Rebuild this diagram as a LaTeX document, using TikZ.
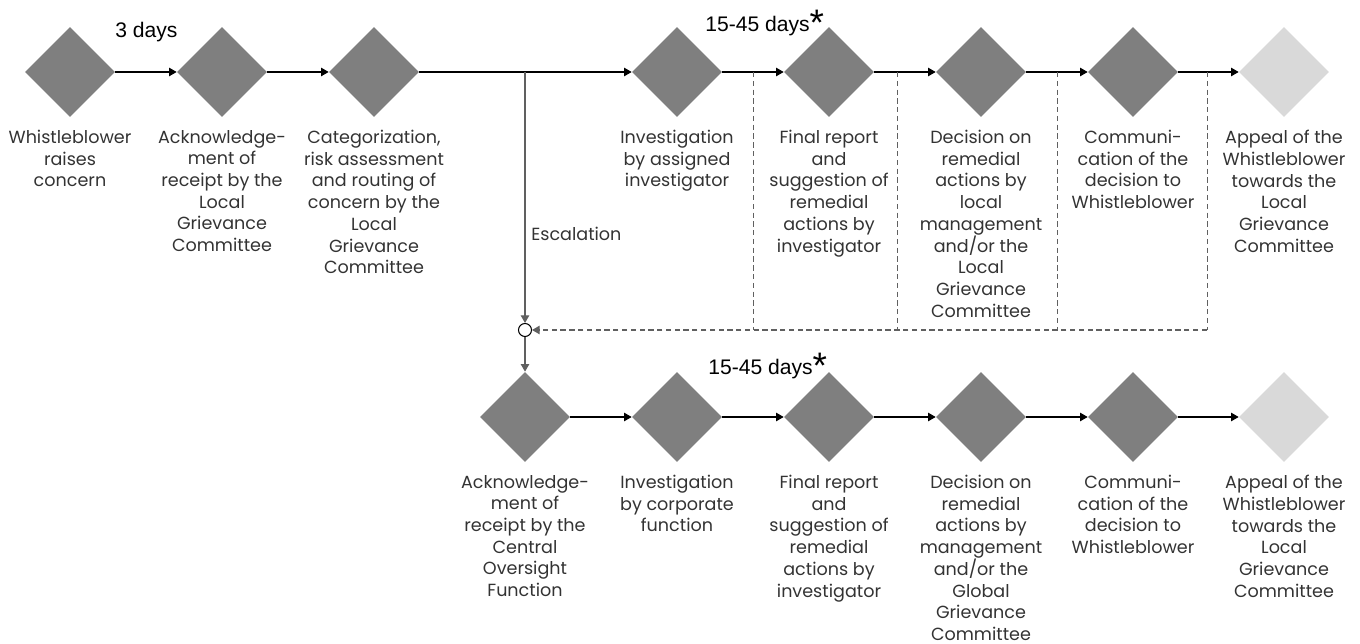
\documentclass[tikz,border=0pt]{standalone}
\usepackage{fontspec}
\setmainfont{Poppins}
\newfontfamily\daysfont{Liberation Sans}
\usepackage{tikz}
\usetikzlibrary{shapes.geometric, arrows.meta, positioning}
\definecolor{stG}{RGB}{127,127,127}
\definecolor{stL}{RGB}{217,217,217}
\definecolor{txG}{RGB}{51,51,51}
\definecolor{lnG}{RGB}{96,96,96}

\begin{document}
\begin{tikzpicture}[x=0.02cm, y=-0.02cm,
    stage/.style={diamond, aspect=1, fill=stG, minimum width=1.8cm, minimum height=1.8cm, inner sep=0pt},
    appeal/.style={stage, fill=stL},
    desc/.style={align=center, inner sep=0pt, text=txG, font=\fontsize{10}{12.35}\selectfont},
    days/.style={inner sep=0pt, font=\daysfont\fontsize{12}{14}\selectfont},
    arr/.style={line width=0.6pt, -{Triangle[length=4.3pt, width=4.8pt]}},
    sep/.style={densely dashed, line width=0.5pt, lnG}
  ]
  \useasboundingbox (0,0) rectangle (1360,644);

  % top row
  \node[stage] (t1) at (70,72) {};
  \node[stage] (t2) at (222,72) {};
  \node[stage] (t3) at (374,72) {};
  \node[stage] (t4) at (677,72) {};
  \node[stage] (t5) at (829,72) {};
  \node[stage] (t6) at (981,72) {};
  \node[stage] (t7) at (1133,72) {};
  \node[appeal] (t8) at (1284,72) {};

  \node[desc, below=0.25cm of t1] (l1) {Whistleblower\\raises\\concern};
  \node[desc, below=0.25cm of t2] (l2) {Acknowledge-\\ment of\\receipt by the\\Local\\Grievance\\Committee};
  \node[desc, below=0.25cm of t3] (l3) {Categorization,\\risk assessment\\and routing of\\concern by the\\Local\\Grievance\\Committee};
  \node[desc, below=0.25cm of t4] (l4) {Investigation\\by assigned\\investigator};
  \node[desc, below=0.25cm of t5] (l5) {Final report\\and\\suggestion of\\remedial\\actions by\\investigator};
  \node[desc, below=0.25cm of t6] (l6) {Decision on\\remedial\\actions by\\local\\management\\and/or the\\Local\\Grievance\\Committee};
  \node[desc, below=0.25cm of t7] (l7) {Communi-\\cation of the\\decision to\\Whistleblower};
  \node[desc, below=0.25cm of t8] (l8) {Appeal of the\\Whistleblower\\towards the\\Local\\Grievance\\Committee};

  \node[days, anchor=base west] (dt1) at (115,38) {3 days};
  \node[days, anchor=base west] (dt2) at (705,32) {15-45 days\raisebox{-2pt}{\fontsize{21}{21}\selectfont *}};

  \foreach \a/\b in {t1/t2, t2/t3, t3/t4, t4/t5, t5/t6, t6/t7, t7/t8}
    \draw[arr] (\a) -- (\b);

  % escalation
  \node[circle, draw, fill=white, line width=0.6pt, minimum size=0.26cm, inner sep=0pt] (j) at (525,330) {};
  \coordinate (esc) at (j |- t3);
  \draw[arr, lnG] (esc) -- (j);
  \node[desc, anchor=west] (escl) at (531,234) {Escalation};

  \foreach \x [count=\i] in {753,897,1057,1207} {
    \coordinate (d\i) at (\x,72);
    \draw[sep] (d\i) -- (d\i |- j);
  }
  \draw[sep, arr] (d4 |- j) -- (j);

  % bottom row
  \node[stage] (b1) at (525,417) {};
  \node[stage] (b2) at (677,417) {};
  \node[stage] (b3) at (829,417) {};
  \node[stage] (b4) at (981,417) {};
  \node[stage] (b5) at (1133,417) {};
  \node[appeal] (b6) at (1284,417) {};

  \draw[arr, lnG] (j) -- (b1);

  \node[desc, below=0.25cm of b1] (m1) {Acknowledge-\\ment of\\receipt by the\\Central\\Oversight\\Function};
  \node[desc, below=0.25cm of b2] (m2) {Investigation\\by corporate\\function};
  \node[desc, below=0.25cm of b3] (m3) {Final report\\and\\suggestion of\\remedial\\actions by\\investigator};
  \node[desc, below=0.25cm of b4] (m4) {Decision on\\remedial\\actions by\\management\\and/or the\\Global\\Grievance\\Committee};
  \node[desc, below=0.25cm of b5] (m5) {Communi-\\cation of the\\decision to\\Whistleblower};
  \node[desc, below=0.25cm of b6] (m6) {Appeal of the\\Whistleblower\\towards the\\Local\\Grievance\\Committee};

  \node[days, anchor=base west] (db1) at (708,375) {15-45 days\raisebox{-2pt}{\fontsize{21}{21}\selectfont *}};

  \foreach \a/\b in {b1/b2, b2/b3, b3/b4, b4/b5, b5/b6}
    \draw[arr] (\a) -- (\b);
\end{tikzpicture}
\end{document}
